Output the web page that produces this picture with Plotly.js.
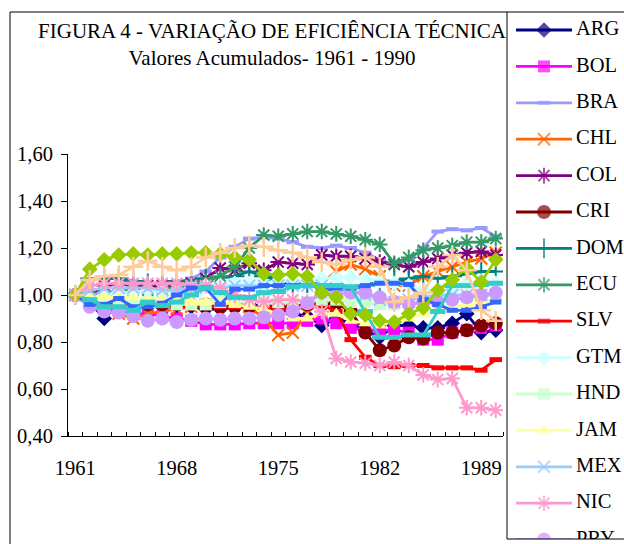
<!DOCTYPE html>
<html>
<head>
<meta charset="utf-8">
<script src="https://cdn.plot.ly/plotly-3.0.1.min.js"></script>
<style>html,body{margin:0;padding:0;background:#fff;}#chart{width:624px;height:544px;}</style>
</head>
<body>
<div id="chart"></div>
<script>
const years = [1961,1962,1963,1964,1965,1966,1967,1968,1969,1970,1971,1972,1973,1974,1975,1976,1977,1978,1979,1980,1981,1982,1983,1984,1985,1986,1987,1988,1989,1990];
const xTickVals = [1961,1968,1975,1982,1989];
const xTickText = ["1961","1968","1975","1982","1989"];
const yTickVals = [0.4,0.6,0.8,1.0,1.2,1.4,1.6];
const yTickText = ["0,40","0,60","0,80","1,00","1,20","1,40","1,60"];
const gridVals = [0.6,0.8,1.0,1.2,1.4];

const seriesNames = ["ARG","BOL","BRA","CHL","COL","CRI","DOM","ECU","SLV","GTM","HND","JAM","MEX","NIC","PRY","PER","TTO","URY","VEN"];

const ARG = [1.00,0.97,0.90,0.96,0.96,0.96,0.95,0.95,0.95,0.94,0.94,0.95,0.96,0.95,0.94,0.92,0.91,0.87,0.90,0.88,0.85,0.82,0.87,0.87,0.86,0.86,0.88,0.92,0.84,0.85];
const BOL = [1.00,0.97,0.95,0.93,0.92,0.92,0.91,0.90,0.89,0.875,0.875,0.875,0.88,0.88,0.88,0.88,0.89,0.90,0.88,0.86,0.85,0.85,0.85,0.84,0.81,0.81,0.84,0.85,0.86,0.87];
const BRA = [1.00,1.00,1.01,1.02,1.02,1.03,1.04,1.05,1.07,1.10,1.16,1.205,1.24,1.245,1.24,1.225,1.205,1.20,1.21,1.20,1.18,1.15,1.13,1.15,1.20,1.27,1.28,1.275,1.285,1.25];
const CHL = [1.00,0.99,0.97,0.92,0.90,0.92,0.93,0.94,0.95,0.96,0.96,0.97,0.95,0.90,0.83,0.84,0.92,1.05,1.10,1.13,1.11,1.08,1.04,1.04,1.08,1.10,1.12,1.14,1.155,1.18];
const COL = [1.00,1.00,1.04,1.05,1.04,1.04,1.04,1.04,1.05,1.07,1.115,1.105,1.135,1.105,1.14,1.135,1.13,1.17,1.165,1.165,1.155,1.14,1.13,1.12,1.14,1.155,1.17,1.18,1.185,1.17];
const CRI = [1.00,0.98,0.97,0.97,0.96,0.96,0.96,0.96,0.96,0.96,0.95,0.95,0.95,0.95,0.95,0.95,0.96,0.96,0.965,0.93,0.84,0.765,0.785,0.82,0.815,0.84,0.84,0.85,0.87,0.88];
const DOM = [1.00,1.07,1.07,1.07,1.06,1.05,1.05,1.06,1.06,1.07,1.075,1.08,1.10,1.08,1.06,1.05,1.05,1.04,1.02,1.03,1.04,1.05,1.06,1.07,1.08,1.07,1.08,1.09,1.10,1.10];
const ECU = [1.00,0.99,1.00,1.01,1.02,1.02,1.03,1.03,1.04,1.06,1.08,1.12,1.20,1.255,1.25,1.26,1.27,1.27,1.26,1.25,1.235,1.215,1.135,1.16,1.19,1.20,1.21,1.225,1.225,1.24];
const SLV = [1.00,0.98,0.97,0.96,0.96,0.96,0.96,0.95,0.95,0.95,0.95,0.95,0.95,0.95,0.94,0.94,0.95,0.96,0.93,0.81,0.735,0.70,0.695,0.70,0.70,0.69,0.69,0.69,0.68,0.725];
const GTM = [1.00,0.99,1.00,1.01,1.01,1.02,1.02,1.02,1.03,1.04,1.04,1.05,1.05,1.05,1.06,1.06,1.06,1.07,1.075,1.075,1.07,1.06,1.05,1.04,1.02,1.01,1.02,1.05,1.06,1.05];
const HND = [1.00,0.98,0.98,0.97,0.97,0.97,0.97,0.96,0.96,0.96,0.97,0.97,0.97,0.98,0.97,0.97,0.97,0.98,0.98,0.97,0.97,0.96,0.96,0.97,0.97,0.98,0.98,0.99,0.99,1.00];
const JAM = [1.00,0.99,0.99,0.99,0.99,0.98,0.98,0.98,0.97,0.97,0.97,0.96,0.95,0.94,0.92,0.90,0.90,0.925,0.92,0.89,0.88,0.87,0.89,0.90,0.92,0.93,0.95,0.96,0.97,0.98];
const MEX = [1.00,1.02,1.03,1.03,1.03,1.03,1.02,1.02,1.03,1.03,1.03,1.04,1.04,1.04,1.04,1.04,1.04,1.04,1.03,1.02,1.00,0.98,0.97,0.98,0.99,1.00,1.00,1.00,1.00,1.00];
const NIC = [1.00,1.04,1.05,1.05,1.05,1.05,1.05,1.05,1.04,1.04,1.03,1.00,0.98,0.97,0.98,0.98,0.97,0.93,0.73,0.715,0.71,0.70,0.715,0.70,0.66,0.64,0.645,0.52,0.52,0.51];
const PRY = [1.00,0.95,0.93,0.925,0.91,0.89,0.90,0.885,0.895,0.90,0.895,0.90,0.90,0.905,0.915,0.93,0.965,1.01,1.00,1.01,1.01,0.99,0.97,0.96,0.97,0.97,0.98,0.99,1.00,1.01];
const PER = [1.00,0.96,0.96,0.985,0.95,0.95,0.965,1.00,1.03,1.03,0.96,1.025,1.025,1.04,1.04,1.04,1.04,1.03,1.03,1.03,1.04,1.05,1.05,1.045,0.98,0.96,0.935,0.935,0.95,0.97];
const TTO = [1.00,0.98,0.95,0.95,0.935,0.97,0.955,0.97,1.00,1.03,1.01,0.99,0.99,1.01,1.015,1.035,1.04,1.04,1.04,1.035,0.93,0.82,0.82,0.83,0.83,0.93,1.04,1.04,1.045,1.05];
const URY = [1.00,1.11,1.15,1.17,1.175,1.17,1.175,1.175,1.18,1.18,1.175,1.16,1.15,1.09,1.085,1.09,1.08,1.01,0.99,0.92,0.915,0.89,0.885,0.92,0.945,1.02,1.065,1.115,1.055,1.15];
const VEN = [1.00,1.065,1.08,1.085,1.12,1.145,1.12,1.105,1.12,1.16,1.18,1.20,1.21,1.205,1.19,1.18,1.16,1.14,1.13,1.15,1.16,1.12,0.97,0.99,1.01,1.12,1.17,1.105,0.935,0.89];

const seriesValues = [ARG,BOL,BRA,CHL,COL,CRI,DOM,ECU,SLV,GTM,HND,JAM,MEX,NIC,PRY,PER,TTO,URY,VEN];

// styles: [color, symbol, size, open-line-width]
const styles = {
  ARG:["#000080","diamond",12,0],
  BOL:["#FF00FF","square",12,0],
  BRA:["#9999FF","line-ew-open",9,4],
  CHL:["#FF6600","x-thin-open",12,2],
  COL:["#800080","asterisk-open",13,2],
  CRI:["#800000","circle",14,0],
  DOM:["#008080","cross-thin-open",14,2],
  ECU:["#339966","asterisk-open",13,2],
  SLV:["#FF0000","line-ew-open",9,5],
  GTM:["#CCFFFF","diamond",12,0],
  HND:["#CCFFCC","square",12,0],
  JAM:["#FFFF99","triangle-up",12,0],
  MEX:["#99CCFF","x-thin-open",12,2],
  NIC:["#FF99CC","asterisk-open",13,2],
  PRY:["#CC99FF","circle",14,0],
  PER:["#3366FF","line-ew-open",8,5],
  TTO:["#33CCCC","line-ew-open",11,5],
  URY:["#99CC00","diamond",12,0],
  VEN:["#FFCC99","cross-thin-open",14,2.5]
};

function markerFor(name, sizeVal){
  const s = styles[name];
  const open = s[3] > 0;
  return open
    ? {symbol:s[1], size:sizeVal, color:s[0], line:{color:s[0], width:s[3]}}
    : {symbol:s[1], size:sizeVal, color:s[0], line:{width:0}};
}

const FONT = "Liberation Serif, Times New Roman, serif";
const traces = [];
seriesNames.forEach((name,i)=>{
  const s = styles[name];
  traces.push({
    type:"scatter", mode:"lines+markers", name:name,
    x:years, y:seriesValues[i],
    xaxis:"x", yaxis:"y",
    line:{color:s[0], width:2.8},
    marker:markerFor(name, s[2]),
    hoverinfo:"name+x+y"
  });
});

// manual legend in its own subplot (row index scale)
const legendRows = seriesNames.map((n,i)=>i);
const LX0 = 516, LXM = 544, LX1 = 572, LXT = 576;
seriesNames.forEach((name,i)=>{
  const s = styles[name];
  traces.push({
    type:"scatter", mode:"lines+markers", showlegend:false,
    x:[LX0,LXM,LX1], y:[legendRows[i],legendRows[i],legendRows[i]],
    xaxis:"x2", yaxis:"y3",
    line:{color:s[0], width:2.8},
    marker:Object.assign(markerFor(name, s[2]), {size:[0,s[2],0]}),
    hoverinfo:"skip"
  });
});
traces.push({
  type:"scatter", mode:"text", showlegend:false,
  x:seriesNames.map(()=>LXT), y:legendRows, text:seriesNames,
  textposition:"middle right",
  textfont:{family:FONT, size:20.5, color:"#000"},
  xaxis:"x2", yaxis:"y3", hoverinfo:"skip", cliponaxis:true
});

const W = 624, H = 544;
const plotL = 68, plotR = 503, plotT = 154, plotB = 436;
const legL = 507, boxTop = 12, legBottom = 539, outerL = 10;
const rowTop = 30, rowStep = 36.4;

const layout = {
  width:W, height:H,
  margin:{l:0,r:0,t:0,b:0},
  paper_bgcolor:"#fff", plot_bgcolor:"rgba(0,0,0,0)",
  showlegend:false,
  font:{family:FONT, size:20, color:"#000"},
  title:{
    text:"FIGURA 4 - VARIAÇÃO DE EFICIÊNCIA TÉCNICA<br>Valores Acumulados- 1961 - 1990",
    x:272/W, xanchor:"center", y:1-38/H, yanchor:"top",
    font:{family:FONT, size:21, color:"#000"}
  },
  xaxis:{
    domain:[plotL/W, plotR/W], range:[1960.5,1990.5], anchor:"y",
    tickmode:"array", tickvals:xTickVals, ticktext:xTickText,
    ticks:"", showline:true, linecolor:"#000", linewidth:1,
    showgrid:false, zeroline:false, ticklabelstandoff:13,
    tickfont:{family:FONT, size:20.5, color:"#000"},
    minor:{tick0:1960.5, dtick:1, ticks:"inside", ticklen:4, tickcolor:"#000", tickwidth:1, showgrid:false}
  },
  yaxis:{
    domain:[1-plotB/H, 1-plotT/H], range:[0.4,1.6], anchor:"x",
    tickmode:"array", tickvals:yTickVals, ticktext:yTickText,
    ticks:"outside", ticklen:6, tickcolor:"#000", tickwidth:1,
    showline:true, linecolor:"#000", linewidth:1,
    showgrid:false, zeroline:false, ticklabelstandoff:4,
    tickfont:{family:FONT, size:20.5, color:"#000"}
  },
  yaxis2:{
    overlaying:"y", anchor:"x", side:"left", range:[0.4,1.6],
    tickmode:"array", tickvals:gridVals, showticklabels:false, ticks:"",
    showgrid:true, gridcolor:"#000", gridwidth:1, griddash:"6px,4px",
    showline:false, zeroline:false
  },
  xaxis2:{domain:[legL/W,1], range:[legL,W], anchor:"y3", visible:false, fixedrange:true},
  yaxis3:{domain:[1-legBottom/H, 1-boxTop/H],
          range:[(legBottom-rowTop)/rowStep, -(rowTop-boxTop)/rowStep],
          anchor:"x2", visible:false, fixedrange:true},
  shapes:[
    {type:"line", xref:"paper", yref:"paper", x0:outerL/W, x1:outerL/W, y0:0, y1:1-boxTop/H, line:{color:"#000", width:1}},
    {type:"line", xref:"paper", yref:"paper", x0:outerL/W, x1:1, y0:1-boxTop/H, y1:1-boxTop/H, line:{color:"#000", width:1}},
    {type:"line", xref:"paper", yref:"paper", x0:legL/W, x1:legL/W, y0:1-legBottom/H, y1:1-boxTop/H, line:{color:"#000", width:1}},
    {type:"line", xref:"paper", yref:"paper", x0:legL/W, x1:1, y0:1-legBottom/H, y1:1-legBottom/H, line:{color:"#000", width:1}}
  ]
};

Plotly.newPlot("chart", traces, layout, {staticPlot:true, displayModeBar:false});
</script>
</body>
</html>
